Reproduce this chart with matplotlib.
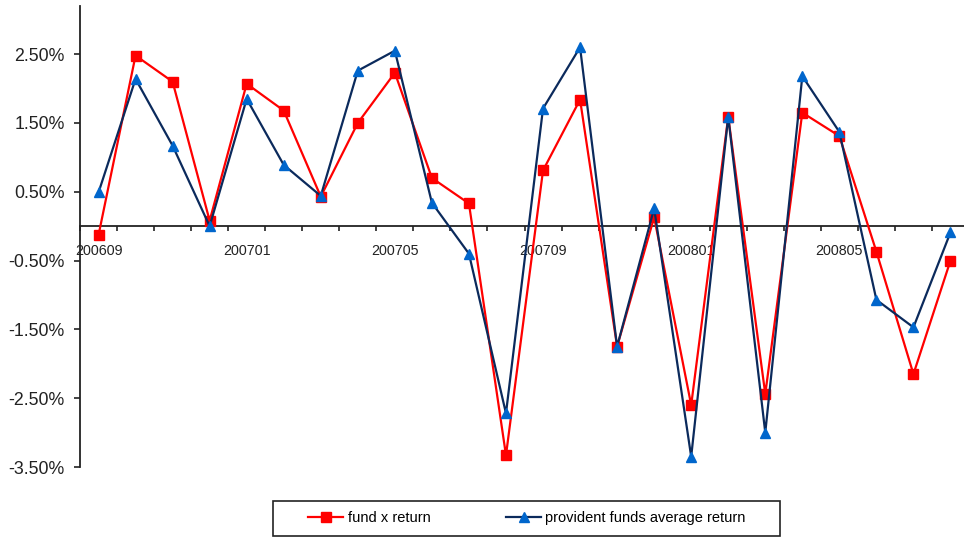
import matplotlib
matplotlib.use("Agg")
import matplotlib.pyplot as plt
from matplotlib.ticker import FixedLocator, FixedFormatter, PercentFormatter, NullFormatter
from matplotlib.patches import Rectangle
import numpy as np

# Monthly returns (%), Sep 2006 - Aug 2008
months = ["200609", "200610", "200611", "200612", "200701", "200702",
          "200703", "200704", "200705", "200706", "200707", "200708",
          "200709", "200710", "200711", "200712", "200801", "200802",
          "200803", "200804", "200805", "200806", "200807", "200808"]
fund_x = [-0.13, 2.48, 2.10, 0.08, 2.07, 1.68,
          0.43, 1.50, 2.23, 0.70, 0.33, -3.33,
          0.81, 1.84, -1.75, 0.13, -2.60, 1.59,
          -2.44, 1.65, 1.31, -0.37, -2.15, -0.50]
provident_avg = [0.49, 2.14, 1.17, 0.00, 1.85, 0.89,
                 0.44, 2.26, 2.55, 0.34, -0.40, -2.72,
                 1.71, 2.60, -1.75, 0.26, -3.35, 1.59,
                 -3.00, 2.18, 1.37, -1.07, -1.47, -0.09]
y_ticks = [-3.5, -2.5, -1.5, -0.5, 0.5, 1.5, 2.5]
label_step = 4

plt.rcParams["font.family"] = ["Liberation Sans", "DejaVu Sans"]
plt.rcParams["axes.unicode_minus"] = False

W, H = 964, 537
fig = plt.figure(figsize=(W / 100, H / 100), dpi=100)
ax = fig.add_axes([80 / W, 70 / H, 889 / W, 461 / H])

x = np.arange(len(months))
ax.plot(x, fund_x, color="#ff0000", lw=1.6, marker="s", ms=6.5,
        mfc="#ff0000", mec="#ff0000", label="fund x return", zorder=3)
ax.plot(x, provident_avg, color="#0b2a5c", lw=1.6, marker="^", ms=7.5,
        mfc="#0066cc", mec="#0066cc", label="provident funds average return",
        zorder=4)

ax.set_xlim(-0.5, len(months) - 0.5)
ax.set_ylim(-3.5, 3.2)

# axes styling: category axis crosses at zero
for s in ("top", "right"):
    ax.spines[s].set_visible(False)
ax.spines["bottom"].set_position(("data", 0))
for s in ("left", "bottom"):
    ax.spines[s].set_color("#222222")
    ax.spines[s].set_linewidth(1.3)

# tick marks between categories, labels every fourth month
ax.xaxis.set_major_locator(FixedLocator(np.arange(-0.5, len(months), 1.0)))
ax.xaxis.set_major_formatter(NullFormatter())
ax.xaxis.set_minor_locator(FixedLocator(x[::label_step]))
ax.xaxis.set_minor_formatter(FixedFormatter(months[::label_step]))
ax.tick_params(axis="x", which="major", direction="out", length=3.5,
               width=1.2, color="#222222")
ax.tick_params(axis="x", which="minor", length=0, pad=12.5, labelsize=10.3,
               labelcolor="#222222")

ax.yaxis.set_major_locator(FixedLocator(y_ticks))
ax.yaxis.set_major_formatter(PercentFormatter(xmax=100, decimals=2))
ax.tick_params(axis="y", direction="out", length=4.5, width=1.2,
               color="#222222", pad=6.5, labelsize=12.8, labelcolor="#222222")

# legend below the plot, with a plain rectangular frame
ax.legend(loc="center", bbox_to_anchor=(527 / W, 19 / H),
          bbox_transform=fig.transFigure, ncol=2, frameon=False,
          handlelength=2.4, columnspacing=5.2, handletextpad=0.3,
          fontsize=10.5)
fig.patches.append(Rectangle((273 / W, 1.5 / H), 507 / W, 35 / H,
                             transform=fig.transFigure, fill=False,
                             edgecolor="#222222", lw=1.2))

fig.savefig("out.png", dpi=100)
